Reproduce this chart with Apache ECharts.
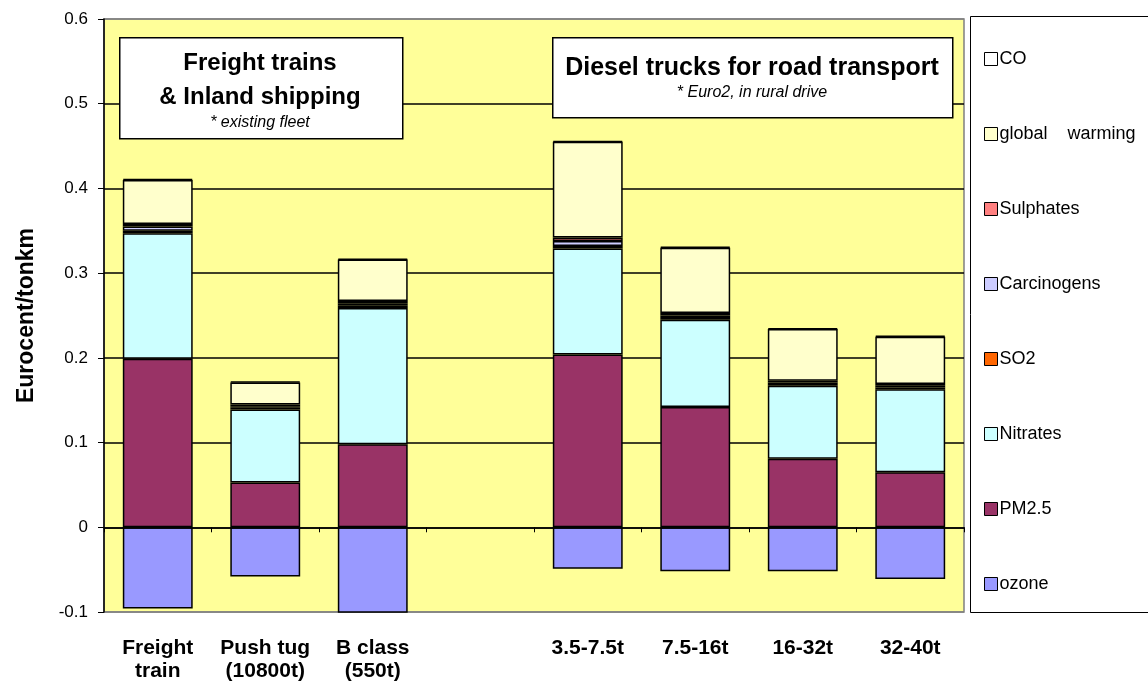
<!DOCTYPE html>
<html>
<head>
<meta charset="utf-8">
<script src="https://cdn.jsdelivr.net/npm/echarts@6/dist/echarts.min.js"></script>
<style>
  html, body { margin: 0; padding: 0; background: #fff; }
  #main { width: 1148px; height: 682px; }
</style>
</head>
<body>
<div id="main"></div>
<script>
// categories (empty slot separates the two groups)
var categories = ['Freight\ntrain', 'Push tug\n(10800t)', 'B class\n(550t)', '', '3.5-7.5t', '7.5-16t', '16-32t', '32-40t'];
var yTicks = [-0.1, 0, 0.1, 0.2, 0.3, 0.4, 0.5, 0.6];

// values, Eurocent/tonkm
var ozone        = [-0.096, -0.058, -0.13, '-', -0.049, -0.052, -0.052, -0.061];
var pm25         = [0.199, 0.053, 0.098, '-', 0.204, 0.142, 0.081, 0.065];
var nitrates     = [0.148, 0.086, 0.161, '-', 0.125, 0.103, 0.086, 0.098];
var so2          = [0.003, 0.002, 0.003, '-', 0.003, 0.002, 0.002, 0.002];
var carcinogens  = [0.005, 0.002, 0.002, '-', 0.006, 0.003, 0.002, 0.002];
var sulphates    = [0.003, 0.002, 0.003, '-', 0.004, 0.003, 0.002, 0.002];
var globalWarm   = [0.052, 0.026, 0.049, '-', 0.113, 0.077, 0.061, 0.056];
var co           = [0.001, 0.001, 0.001, '-', 0.001, 0.001, 0.001, 0.001];

var myChart = echarts.init(document.getElementById('main'));

function mk(name, data, color) {
  return {
    name: name,
    type: 'bar',
    stack: 'total',
    barCategoryGap: '35%',
    data: data,
    itemStyle: { color: color, borderColor: '#000', borderWidth: 1.5 }
  };
}

var FONT = 'Liberation Sans, Arial, sans-serif';

var option = {
  animation: false,
  textStyle: { fontFamily: FONT },
  grid: {
    left: 104, right: 184, top: 19, bottom: 70,
    outerBoundsMode: 'none',
    show: true, backgroundColor: '#FFFF99', borderColor: '#808080', borderWidth: 1.5
  },
  legend: {
    orient: 'vertical',
    left: 979, top: 45,
    itemWidth: 13, itemHeight: 13, itemGap: 57,
    icon: 'rect',
    itemStyle: { borderColor: '#000', borderWidth: 1 },
    textStyle: { fontSize: 18, color: '#000', lineHeight: 18, padding: [0, 0, 0, -3] },
    formatter: function (name) { return name.replace(' ', '    '); },
    data: ['CO', 'global warming', 'Sulphates', 'Carcinogens', 'SO2', 'Nitrates', 'PM2.5', 'ozone']
  },
  xAxis: {
    type: 'category',
    data: categories,
    axisLine: { onZero: true, lineStyle: { color: '#000', width: 1.5 } },
    axisTick: { show: true, length: 5, lineStyle: { color: '#000' } },
    axisLabel: {
      interval: 0, color: '#000', fontSize: 21, fontWeight: 'bold', lineHeight: 23,
      margin: 25
    },
    z: 10
  },
  yAxis: {
    type: 'value',
    min: -0.1, max: 0.6, interval: 0.1,
    name: 'Eurocent/tonkm',
    nameLocation: 'middle',
    nameGap: 66,
    nameTextStyle: { fontSize: 23, fontWeight: 'bold', color: '#000' },
    axisLine: { show: true, lineStyle: { color: '#000', width: 1.5 } },
    axisTick: { show: true, length: 6, lineStyle: { color: '#000' } },
    axisLabel: {
      color: '#000', fontSize: 17, margin: 16,
      formatter: function (v) { return String(Math.round(v * 10) / 10); }
    },
    splitLine: { show: true, lineStyle: { color: ['#808080', '#000', '#000', '#000', '#000', '#000', '#000', '#808080'], width: 1.5 } }
  },
  graphic: [
    { type: 'rect', left: 970, top: 16, shape: { width: 200, height: 596 },
      style: { fill: '#fff', stroke: '#000', lineWidth: 1 }, z: -1 },
    { type: 'rect', left: 119, top: 37, shape: { width: 283, height: 101 },
      style: { fill: '#fff', stroke: '#000', lineWidth: 1.5 }, z: 50 },
    { type: 'text', z: 51,
      style: { text: 'Freight trains\n& Inland shipping', x: 260, y: 46, textAlign: 'center',
        font: 'bold 24px ' + FONT, lineHeight: 34, fill: '#000' } },
    { type: 'text', z: 51,
      style: { text: '* existing fleet', x: 260, y: 115, textAlign: 'center',
        font: 'italic 16px ' + FONT, fill: '#000' } },
    { type: 'rect', left: 552, top: 37, shape: { width: 400, height: 80 },
      style: { fill: '#fff', stroke: '#000', lineWidth: 1.5 }, z: 50 },
    { type: 'text', z: 51,
      style: { text: 'Diesel trucks for road transport', x: 752, y: 56, textAlign: 'center',
        font: 'bold 25px ' + FONT, fill: '#000' } },
    { type: 'text', z: 51,
      style: { text: '* Euro2, in rural drive', x: 752, y: 85, textAlign: 'center',
        font: 'italic 16px ' + FONT, fill: '#000' } }
  ],
  series: [
    mk('ozone', ozone, '#9999FF'),
    mk('PM2.5', pm25, '#993366'),
    mk('Nitrates', nitrates, '#CCFFFF'),
    mk('SO2', so2, '#FF6600'),
    mk('Carcinogens', carcinogens, '#CCCCFF'),
    mk('Sulphates', sulphates, '#FF8080'),
    mk('global warming', globalWarm, '#FFFFCC'),
    mk('CO', co, '#FFFFFF')
  ]
};

myChart.setOption(option);
</script>
</body>
</html>
